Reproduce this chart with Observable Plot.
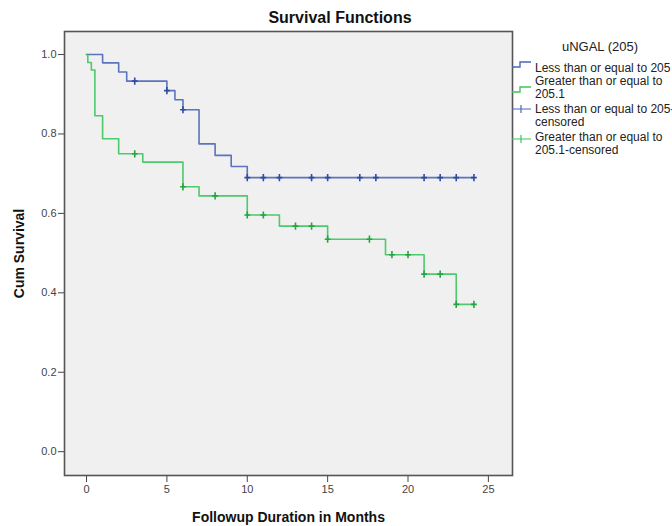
<!DOCTYPE html>
<html>
<head>
<meta charset="utf-8">
<script src="https://cdn.jsdelivr.net/npm/d3@7"></script>
<script src="https://cdn.jsdelivr.net/npm/@observablehq/plot@0.6"></script>
<style>
  html, body { margin: 0; padding: 0; background: #fff; overflow: hidden; }
  #wrap { position: relative; width: 672px; height: 526px; overflow: hidden;
          font-family: Arial, "Liberation Sans", Helvetica, sans-serif; }
  #title { position: absolute; left: 0; top: 9px; width: 680px; text-align: center;
           font-weight: bold; font-size: 16px; color: #111; }
  #legend { position: absolute; left: 505px; top: 30px; overflow: visible; }
  #chart svg g[aria-label="x-axis label"] text,
  #chart svg g[aria-label="y-axis label"] text { font-weight: bold; font-size: 14px; fill: #111; }
</style>
</head>
<body>
<div id="wrap">
  <div id="chart"></div>
  <div id="title">Survival Functions</div>
  <svg id="legend" width="167" height="130"></svg>
</div>
<script>
// ---- data ----
const xTicks = [0, 5, 10, 15, 20, 25];
const yTicks = [0.0, 0.2, 0.4, 0.6, 0.8, 1.0];

const groupNames = ["Less than or equal to 205", "Greater than or equal to 205.1"];

// group 1: Less than or equal to 205 (step-function knots)
const blueTimes = [0, 1.0, 2.0, 2.5, 5.0, 5.5, 6.0, 7.0, 8.0, 9.0, 10.0, 24.1];
const blueSurv  = [1.0, 0.979, 0.956, 0.933, 0.909, 0.886, 0.861, 0.775, 0.746, 0.718, 0.690, 0.690];
const blueCensored = [3, 5, 6, 10, 11, 12, 14, 15, 17, 18, 21, 22, 23, 24.1];

// group 2: Greater than or equal to 205.1
const greenTimes = [0, 0.08, 0.3, 0.52, 1.0, 2.0, 3.5, 6.0, 7.0, 10.0, 12.0, 15.0, 18.6, 21.0, 23.0, 24.1];
const greenSurv  = [1.0, 0.980, 0.961, 0.846, 0.788, 0.750, 0.729, 0.667, 0.644, 0.596, 0.568, 0.535, 0.496, 0.447, 0.371, 0.371];
const greenCensored = [3, 6, 8, 10, 11, 13, 14, 15, 17.6, 19, 20, 21, 22, 23, 24.1];

const legendTitle = "uNGAL (205)";
const legendLabels = [
  ["Less than or equal to 205"],
  ["Greater than or equal to", "205.1"],
  ["Less than or equal to 205-", "censored"],
  ["Greater than or equal to", "205.1-censored"]
];

// ---- styling ----
const blue = "#4a66b8", blueDark = "#2f4c9e";
const green = "#3cc45c", greenDark = "#22a640";

// ---- derived tables ----
const survAt = (times, surv, t) => surv[d3.bisectRight(times, t) - 1];
const curveData = [
  ...blueTimes.map((t, i) => ({t, s: blueSurv[i], g: groupNames[0]})),
  ...greenTimes.map((t, i) => ({t, s: greenSurv[i], g: groupNames[1]}))
];
const censorData = [
  ...blueCensored.map(t => ({t, s: survAt(blueTimes, blueSurv, t), g: groupNames[0]})),
  ...greenCensored.map(t => ({t, s: survAt(greenTimes, greenSurv, t), g: groupNames[1]}))
];

const censorSymbol = {
  draw(ctx, size) {
    const r = Math.sqrt(size / Math.PI);
    ctx.moveTo(0, -r); ctx.lineTo(0, r);
    ctx.moveTo(-r * 0.8, 0); ctx.lineTo(r * 0.8, 0);
  }
};

const chart = Plot.plot({
  width: 672,
  height: 526,
  marginLeft: 64,
  marginRight: 160,
  marginTop: 31,
  marginBottom: 51,
  style: {fontFamily: "Arial, 'Liberation Sans', Helvetica, sans-serif", fontSize: "11px", color: "#444", background: "transparent", overflow: "visible"},
  x: {domain: [-1.37, 26.5]},
  y: {domain: [-0.06, 1.058]},
  color: {domain: groupNames, range: [blue, green]},
  marks: [
    Plot.frame({fill: "#f0f0f0", stroke: null}),
    Plot.axisX({ticks: xTicks, tickSize: 7, tickPadding: 3, label: "Followup Duration in Months",
                labelAnchor: "center", labelOffset: 46, labelArrow: "none"}),
    Plot.axisY({ticks: yTicks, tickSize: 6, tickPadding: 2, tickFormat: d3.format(".1f"),
                label: "Cum Survival", labelAnchor: "center", labelOffset: 50, labelArrow: "none"}),
    Plot.line(curveData, {x: "t", y: "s", z: "g", stroke: "g", curve: "step-after", strokeWidth: 1.6, strokeOpacity: 0.9}),
    Plot.dot(censorData, {x: "t", y: "s", symbol: () => censorSymbol, r: 3.6,
      stroke: d => d.g === groupNames[0] ? blueDark : greenDark, fill: "none", strokeWidth: 1.6}),
    Plot.frame({stroke: "#555", strokeWidth: 1.6})
  ]
});
document.getElementById("chart").appendChild(chart);

// ---- legend ----
const lg = d3.select("#legend");
lg.append("text").attr("x", 95).attr("y", 21).attr("text-anchor", "middle")
  .attr("font-size", 13).attr("fill", "#222").text(legendTitle);
const rowBase = [42, 55, 83, 111];
const iconY = [37, 62, 79, 109];
legendLabels.forEach((lines, i) => {
  const g = lg.append("g").attr("font-size", 12).attr("fill", "#222");
  lines.forEach((ln, j) => {
    g.append("text").attr("x", 30).attr("y", rowBase[i] + j * 13).text(ln);
  });
  const col = i % 2 === 0 ? blue : green;
  const y = iconY[i];
  if (i < 2) {
    g.append("path").attr("d", `M7,${y} H15 V${y - 5} H26`).attr("fill", "none")
      .attr("stroke", col).attr("stroke-width", 1.4);
  } else {
    g.append("path").attr("d", `M7,${y} H26 M16,${y - 4} V${y + 4}`).attr("fill", "none")
      .attr("stroke", col).attr("stroke-width", 1.2);
  }
});
</script>
</body>
</html>
